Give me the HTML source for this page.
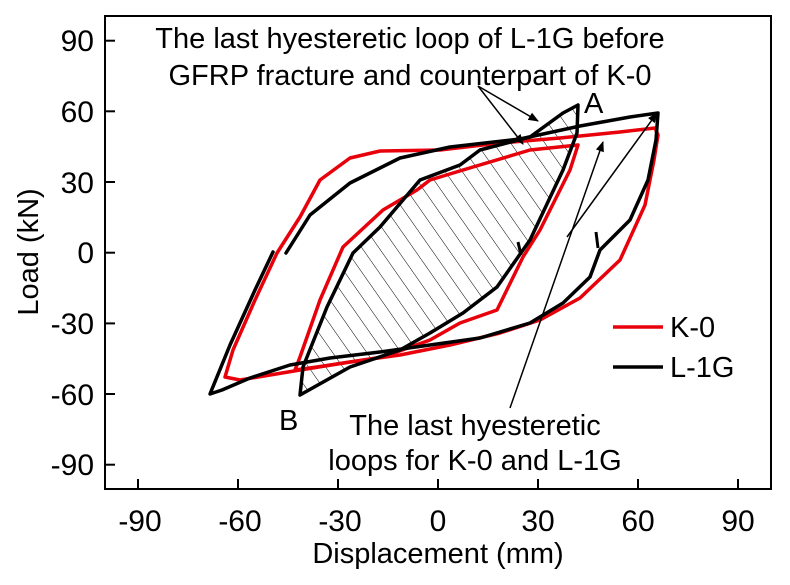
<!DOCTYPE html>
<html><head><meta charset="utf-8"><style>
body{margin:0;background:#fff}
svg text{font-family:"Liberation Sans",Arial,sans-serif;fill:#000}
</style></head><body>
<svg width="790" height="580" viewBox="0 0 790 580" xmlns="http://www.w3.org/2000/svg">
<defs>
<pattern id="h" patternUnits="userSpaceOnUse" width="14" height="14" patternTransform="rotate(-35)">
<line x1="0" y1="0" x2="0" y2="14" stroke="#000" stroke-width="1"/>
</pattern>
<marker id="ar" viewBox="0 0 10 10" refX="9" refY="5" markerWidth="7" markerHeight="7" orient="auto">
<path d="M0,1 L10,5 L0,9 z" fill="#000"/></marker>
</defs>
<rect x="105" y="16" width="666" height="473" fill="none" stroke="#000" stroke-width="2"/>
<g stroke="#000" stroke-width="2">
<line x1="138" y1="489" x2="138" y2="479"/><line x1="238" y1="489" x2="238" y2="479"/>
<line x1="338" y1="489" x2="338" y2="479"/><line x1="438" y1="489" x2="438" y2="479"/>
<line x1="538" y1="489" x2="538" y2="479"/><line x1="638" y1="489" x2="638" y2="479"/>
<line x1="738" y1="489" x2="738" y2="479"/>
<line x1="105" y1="40.7" x2="115" y2="40.7"/><line x1="105" y1="111.3" x2="115" y2="111.3"/>
<line x1="105" y1="182" x2="115" y2="182"/><line x1="105" y1="252.7" x2="115" y2="252.7"/>
<line x1="105" y1="323.4" x2="115" y2="323.4"/><line x1="105" y1="394" x2="115" y2="394"/>
<line x1="105" y1="464.7" x2="115" y2="464.7"/>
</g>
<g font-size="30" text-anchor="middle">
<text x="140" y="531">-90</text><text x="240" y="531">-60</text><text x="340" y="531">-30</text>
<text x="438" y="531">0</text><text x="538" y="531">30</text><text x="638" y="531">60</text><text x="738" y="531">90</text>
</g>
<g font-size="30" text-anchor="end">
<text x="94" y="51">90</text><text x="94" y="122">60</text><text x="94" y="193">30</text>
<text x="94" y="263">0</text><text x="94" y="334">-30</text><text x="94" y="405">-60</text><text x="94" y="475">-90</text>
</g>
<text x="438" y="563" font-size="29" text-anchor="middle">Displacement (mm)</text>
<text transform="translate(38,252) rotate(-90)" font-size="29" text-anchor="middle">Load (kN)</text>

<path d="M300,395 L303,367 L327,307 L353,253 L380,227 L420,180 L460,165 L480,150 L530,137 L563,113 L578,105 L577,133 L563,170 L530,240 L497,287 L463,313 L430,333 L400,350 L350,367 Z" fill="url(#h)" stroke="none"/>

<g fill="none" stroke-width="3.5" stroke-linejoin="round" stroke-linecap="round">
<path stroke="#e8000b" d="M655,128 L620,132 L560,138 L500,143 L440,150 L380,151 L350,158 L320,180 L300,217 L277,253 L255,300 L233,350 L225,377 L240,380 L300,370 L350,362 L400,355 L450,345 L500,333 L540,320 L580,298 L620,260 L645,205 L654,160 L658,135 Z"/>
<path stroke="#e8000b" d="M578,145 L530,150 L463,170 L430,180 L417,190 L383,210 L343,247 L320,300 L300,357 L295,370 L317,367 L383,357 L430,340 L460,323 L497,310 L523,257 L540,230 L570,170 L578,145"/>
<path stroke="#000" d="M286,253 L310,215 L350,183 L400,158 L450,147 L520,139 L580,126 L630,117 L658,113 L656,140 L648,180 L630,220 L600,250 L590,277 L563,303 L530,323 L480,338 L430,345 L380,352 L330,358 L290,365 L250,378 L222,390 L210,394 L230,345 L255,290 L273,252"/>
<path stroke="#000" d="M300,395 L303,367 L327,307 L353,253 L380,227 L420,180 L460,165 L480,150 L530,137 L563,113 L578,105 L577,133 L563,170 L530,240 L497,287 L463,313 L430,333 L400,350 L350,367 L300,395"/>
</g>
<g stroke="#000" stroke-width="3"><line x1="518" y1="242" x2="521" y2="255"/><line x1="596" y1="232" x2="598" y2="248"/></g>
<g stroke="#000" stroke-width="1.5" marker-end="url(#ar)">
<line x1="478" y1="86" x2="538" y2="121"/>
<line x1="478" y1="86" x2="523" y2="144"/>
<line x1="510" y1="408" x2="603" y2="142"/>
<line x1="567" y1="237" x2="657" y2="113"/>
</g>
<g font-size="29">
<text x="410" y="48" text-anchor="middle">The last hyesteretic loop of L-1G before</text>
<text x="410" y="85" text-anchor="middle">GFRP fracture and counterpart of K-0</text>
<text x="584" y="113">A</text>
<text x="279" y="430">B</text>
<text x="475" y="435" text-anchor="middle">The last hyesteretic</text>
<text x="475" y="470" text-anchor="middle">loops for K-0 and L-1G</text>
<text x="670" y="337">K-0</text>
<text x="670" y="377">L-1G</text>
</g>
<line x1="613" y1="327" x2="663" y2="327" stroke="#e8000b" stroke-width="3.5"/>
<line x1="613" y1="367" x2="663" y2="367" stroke="#000" stroke-width="3.5"/>
</svg>
</body></html>
